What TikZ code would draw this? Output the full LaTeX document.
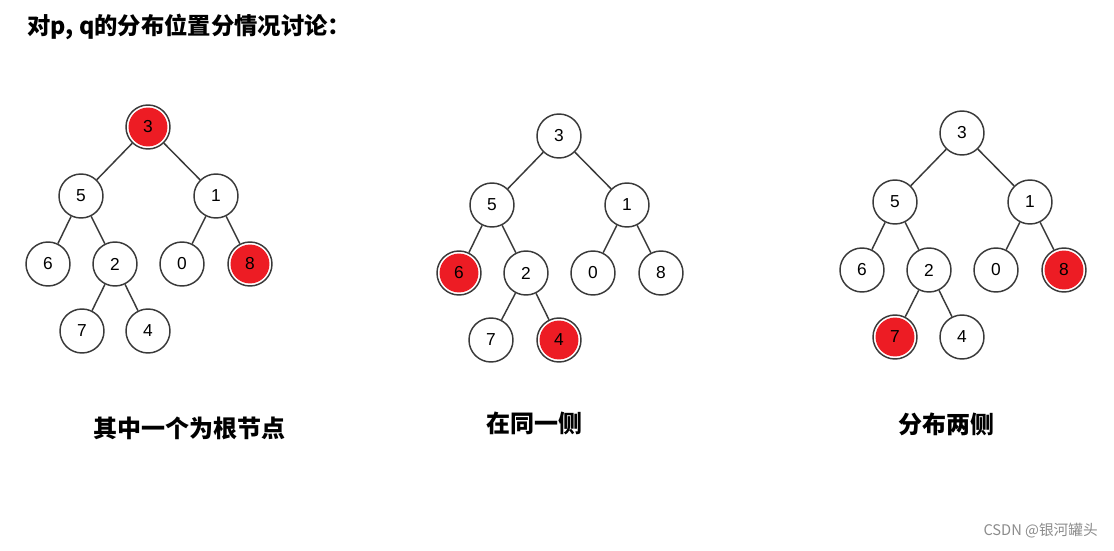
\documentclass[tikz,border=0pt]{standalone}
\usepackage{fontspec}
\newfontfamily\cjk{Noto Sans CJK SC}
\newfontfamily\arial{Liberation Sans}
\definecolor{nodered}{HTML}{ED1C24}
\definecolor{edgegray}{HTML}{3A3A3A}
\tikzset{
  nd/.style={circle, draw=edgegray, line width=1.1pt, minimum size=33pt, inner sep=0pt, fill=white, font=\arial\fontsize{13}{13}\selectfont},
  rednd/.style={nd, path picture={\fill[nodered] (path picture bounding box.center) circle (14.6pt);}},
  edge/.style={draw=edgegray, line width=1.1pt},
  caption/.style={font=\cjk\bfseries\fontsize{18}{18}\selectfont, inner sep=0pt},
}
\newcommand{\mytree}[6]{%
  \begin{scope}[shift={(#2,#3)}]
    \node[#4] (#1n3) at (148,127) {3};
    \node[nd] (#1n5) at (81,196) {5};
    \node[nd] (#1n1) at (216,196) {1};
    \node[#5] (#1n6) at (48,264) {6};
    \node[nd] (#1n2) at (115,264) {2};
    \node[nd] (#1n0) at (182,264) {0};
    \node[#6] (#1n8) at (250,264) {8};
  \end{scope}
}
\begin{document}
\begin{tikzpicture}[x=0.75pt,y=-0.75pt]
\useasboundingbox[fill=white] (0,0) rectangle (1114,550);
% title
\node[anchor=west, font=\cjk\bfseries\fontsize{17.5}{17.5}\selectfont, inner sep=0pt] (title) at (27,27) {对p, q的分布位置分情况讨论：};
% tree 1
\mytree{a}{0}{0}{rednd}{nd}{rednd}
\node[nd] (an7) at (82,331) {7};
\node[nd] (an4) at (148,331) {4};
% tree 2
\mytree{b}{411}{9}{nd}{rednd}{nd}
\node[nd] (bn7) at (491,340) {7};
\node[rednd] (bn4) at (559,340) {4};
% tree 3
\mytree{c}{814}{6}{nd}{nd}{rednd}
\node[rednd] (cn7) at (895,337) {7};
\node[nd] (cn4) at (962,337) {4};
% edges
\foreach \p in {a,b,c}{
  \draw[edge] (\p n3) -- (\p n5);
  \draw[edge] (\p n3) -- (\p n1);
  \draw[edge] (\p n5) -- (\p n6);
  \draw[edge] (\p n5) -- (\p n2);
  \draw[edge] (\p n1) -- (\p n0);
  \draw[edge] (\p n1) -- (\p n8);
  \draw[edge] (\p n2) -- (\p n7);
  \draw[edge] (\p n2) -- (\p n4);
}
% captions
\node[caption] (cap1) at (189,428) {其中一个为根节点};
\node[caption] (cap2) at (534,423) {在同一侧};
\node[caption] (cap3) at (946,424) {分布两侧};
% watermark
\node[anchor=east, font=\cjk\fontsize{11}{11}\selectfont, text=black!45, inner sep=0pt] (wm) at (1098,531) {CSDN @银河罐头};
\end{tikzpicture}
\end{document}
